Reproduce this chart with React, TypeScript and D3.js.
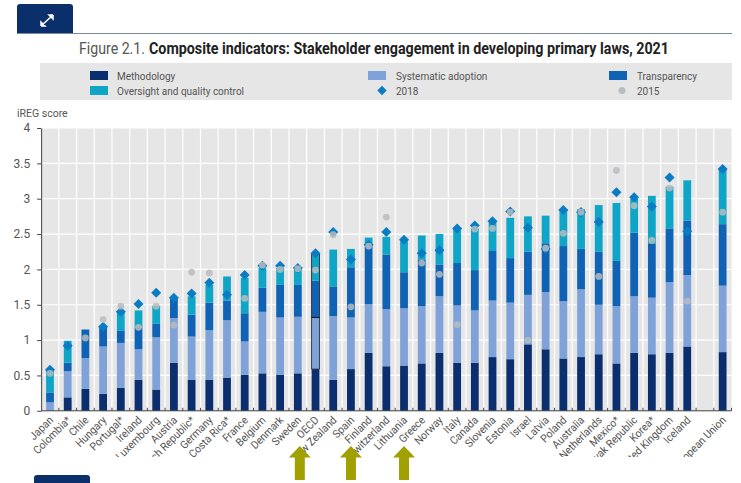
import * as React from 'react';
import * as d3 from 'd3';

const countries = ['Japan', 'Colombia*', 'Chile', 'Hungary', 'Portugal*', 'Ireland', 'Luxembourg', 'Austria', 'Czech Republic*', 'Germany', 'Costa Rica*', 'France', 'Belgium', 'Denmark', 'Sweden', 'OECD', 'New Zealand', 'Spain', 'Finland', 'Switzerland', 'Lithuania', 'Greece', 'Norway', 'Italy', 'Canada', 'Slovenia', 'Estonia', 'Israel', 'Latvia', 'Poland', 'Australia', 'Netherlands', 'Mexico*', 'Slovak Republic', 'Korea*', 'United Kingdom', 'Iceland', '', 'European Union'];

const methodology = [0, .19, .31, .24, .325, .44, .30, .68, .44, .44, .47, .51, .53, .51, .53, .59, .44, .59, .82, .63, .64, .67, .82, .68, .68, .76, .73, .94, .87, .74, .76, .80, .67, .82, .80, .82, .91, 0, .83];
const adoption = [.12, .37, .435, .67, .635, .43, .74, .63, .61, .70, .81, .47, .87, .81, .80, .73, .90, .73, .69, .81, .81, .81, .80, .81, .74, .80, .80, .70, .81, .81, .96, .70, .81, .80, .80, 1.0, 1.01, 0, .94];
const transparency = [.14, .12, .405, .27, .17, .31, .19, .29, .31, .39, .28, .40, .34, .46, .45, .52, .42, .71, .82, .77, .51, .66, .45, .60, .57, .70, .63, .61, .69, .78, .57, .75, .64, .90, .76, .76, .77, 0, .87];
const oversight = [.32, .31, 0, .02, .28, .24, .255, 0, .26, .25, .34, .50, .28, .24, .24, .37, .52, .26, .12, .25, .44, .34, .43, .48, .59, .40, .57, .50, .39, .51, .56, .66, .82, .48, .68, .59, .57, 0, .77];
const score2018 = [.58, .92, null, 1.19, 1.4, 1.51, 1.67, 1.6, 1.66, 1.81, 1.64, 1.92, 2.05, 2.05, 2.02, 2.23, 2.53, 2.14, 2.35, 2.53, 2.42, 2.23, 2.27, 2.58, 2.62, 2.68, 2.82, 2.59, 2.29, 2.84, 2.81, 2.67, 3.09, 3.02, 2.89, 3.3, 2.54, null, 3.42];
const score2015 = [.53, null, 1.03, 1.29, 1.48, 1.18, 1.48, 1.21, 1.96, 1.95, null, 1.59, 2.06, 2.0, 2.01, 1.99, 2.49, 1.47, 2.33, 2.74, null, 2.09, 1.93, 1.22, 2.57, 2.58, 2.81, 1.0, 2.3, 2.51, 2.81, 1.9, 3.4, 2.9, 2.41, 3.15, 1.55, null, 2.81];

const yTicks = [0, 0.5, 1, 1.5, 2, 2.5, 3, 3.5, 4];
const arrowCountries = ['Sweden', 'Spain', 'Lithuania'];

const seriesKeys = ['Methodology', 'Systematic adoption', 'Transparency', 'Oversight and quality control'];
const seriesColors = ['#0a2e6e', '#7fa3d8', '#0f62b4', '#0ea5c6'];
const color2018 = '#0a7cc4';
const color2015 = '#b9bcbf';
const textColor = '#555';
const font = 'Roboto, sans-serif';

export default function App() {
  const ref = React.useRef<SVGSVGElement>(null);

  React.useEffect(() => {
    const svg = d3.select(ref.current);
    svg.selectAll('*').remove();

    const left = 41.15;
    const right = 731.5;
    const top = 128;
    const bottom = 410.8;

    const x = d3.scaleBand().domain(countries.map((c, i) => i + ':' + c)).range([left, right]).padding(0.56).paddingOuter(0.28);
    const step = x.step();
    const xKey = (i: number) => i + ':' + countries[i];
    const cx = (i: number) => (x(xKey(i)) as number) + x.bandwidth() / 2;
    const y = d3.scaleLinear().domain([0, 4]).range([bottom, top]);

    svg.append('clipPath').attr('id', 'label-clip').append('rect')
      .attr('x', 0).attr('y', 0).attr('width', 741).attr('height', 457);

    // header tab and rule
    svg.append('rect').attr('x', 17).attr('y', 33).attr('width', 715).attr('height', 1).attr('fill', '#7d8a99');
    svg.append('path').attr('d', 'M17 33V7a3 3 0 0 1 3-3H70a3 3 0 0 1 3 3V33Z').attr('fill', '#0b2f6b');
    svg.append('path').attr('d', 'M41 26L53 15M53 15h-4l4 4v-4M41 26h4l-4-4v4')
      .attr('stroke', '#fff').attr('stroke-width', 1.5).attr('fill', '#fff');

    svg.append('text').attr('x', 79).attr('y', 54)
      .attr('textLength', 66).attr('lengthAdjust', 'spacingAndGlyphs')
      .attr('font-family', font).attr('font-size', 16).attr('fill', '#555')
      .text('Figure 2.1.');
    svg.append('text').attr('x', 149).attr('y', 54)
      .attr('textLength', 520).attr('lengthAdjust', 'spacingAndGlyphs')
      .attr('font-family', font).attr('font-size', 16).attr('font-weight', 'bold').attr('fill', '#222')
      .text('Composite indicators: Stakeholder engagement in developing primary laws, 2021');

    // legend
    svg.append('rect').attr('x', 40).attr('y', 63).attr('width', 692).attr('height', 37).attr('fill', '#e6e6e6');
    const legendX = [90, 368, 609];
    const legendItems = [
      { name: seriesKeys[0], col: 0, row: 0, swatch: seriesColors[0] },
      { name: seriesKeys[1], col: 1, row: 0, swatch: seriesColors[1] },
      { name: seriesKeys[2], col: 2, row: 0, swatch: seriesColors[2] },
      { name: seriesKeys[3], col: 0, row: 1, swatch: seriesColors[3] },
      { name: '2018', col: 1, row: 1, swatch: null },
      { name: '2015', col: 2, row: 1, swatch: null },
    ];
    const legend = svg.append('g').attr('font-family', font).attr('font-size', 10).attr('fill', textColor);
    legendItems.forEach(d => {
      const lx = legendX[d.col];
      const ly = 71 + d.row * 15;
      if (d.swatch) {
        legend.append('rect').attr('x', lx).attr('y', ly).attr('width', 18).attr('height', 9).attr('fill', d.swatch);
      } else if (d.name === '2018') {
        legend.append('path').attr('transform', `translate(${lx + 14},${ly + 4.5})`)
          .attr('d', d3.symbol(d3.symbolDiamond2, 56)()).attr('fill', color2018);
      } else {
        legend.append('circle').attr('cx', lx + 13).attr('cy', ly + 4.5).attr('r', 3.5).attr('fill', color2015);
      }
      legend.append('text').attr('x', lx + (d.col === 0 ? 27 : 28)).attr('y', ly + 8.5).text(d.name);
    });

    svg.append('text').attr('x', 17).attr('y', 117).attr('font-family', font).attr('font-size', 10.5)
      .attr('fill', textColor).text('iREG score');

    // plot area
    svg.append('rect').attr('x', left).attr('y', top).attr('width', right - left).attr('height', bottom - top).attr('fill', '#e6e6e6');
    svg.append('g').selectAll('line').data(yTicks.slice(1)).enter().append('line')
      .attr('x1', left).attr('x2', right).attr('y1', d => y(d)).attr('y2', d => y(d))
      .attr('stroke', '#fff').attr('stroke-width', 1.2);
    svg.append('g').selectAll('line').data(d3.range(1, countries.length)).enter().append('line')
      .attr('x1', d => left + d * step).attr('x2', d => left + d * step)
      .attr('y1', top).attr('y2', bottom).attr('stroke', '#fff').attr('stroke-width', 1.2);

    // stacked bars
    const rows = countries.map((c, i) => ({
      i,
      [seriesKeys[0]]: methodology[i],
      [seriesKeys[1]]: adoption[i],
      [seriesKeys[2]]: transparency[i],
      [seriesKeys[3]]: oversight[i],
    }));
    const stacked = d3.stack().keys(seriesKeys)(rows as any);
    svg.append('g').selectAll('g').data(stacked).enter().append('g')
      .attr('fill', (d, i) => seriesColors[i])
      .selectAll('rect').data(d => d).enter().append('rect')
      .attr('x', (d, i) => cx(i) - x.bandwidth() / 2)
      .attr('width', x.bandwidth())
      .attr('y', d => y(d[1]))
      .attr('height', d => y(d[0]) - y(d[1]));

    // OECD outline above methodology
    const oecd = countries.indexOf('OECD');
    svg.append('rect')
      .attr('x', cx(oecd) - x.bandwidth() / 2).attr('width', x.bandwidth())
      .attr('y', y(stacked[3][oecd][1])).attr('height', y(stacked[1][oecd][0]) - y(stacked[3][oecd][1]))
      .attr('fill', 'none').attr('stroke', '#222').attr('stroke-width', 0.8);
    svg.append('line')
      .attr('x1', cx(oecd) - x.bandwidth() / 2).attr('x2', cx(oecd) + x.bandwidth() / 2)
      .attr('y1', y(stacked[1][oecd][1])).attr('y2', y(stacked[1][oecd][1]))
      .attr('stroke', '#111').attr('stroke-width', 1);

    // markers
    svg.append('g').selectAll('path').data(score2018.map((v, i) => ({ v, i })).filter(d => d.v !== null)).enter().append('path')
      .attr('transform', d => `translate(${cx(d.i)},${y(d.v as number)})`)
      .attr('d', d3.symbol(d3.symbolDiamond2, 64)())
      .attr('fill', color2018);
    svg.append('g').selectAll('circle').data(score2015.map((v, i) => ({ v, i })).filter(d => d.v !== null)).enter().append('circle')
      .attr('cx', d => cx(d.i)).attr('cy', d => y(d.v as number)).attr('r', 3.4)
      .attr('fill', color2015).attr('fill-opacity', 0.85);

    // y axis
    const yAxis = svg.append('g').attr('transform', `translate(${left},0)`)
      .call(d3.axisLeft(y).tickValues(yTicks).tickFormat(d => String(d)).tickSize(4).tickSizeOuter(0));
    yAxis.select('.domain').attr('stroke', '#444');
    yAxis.selectAll('.tick line').attr('stroke', '#444');
    yAxis.selectAll('text').attr('font-family', font).attr('font-size', 12).attr('fill', textColor).attr('dx', -4);

    // x axis, ticks sit between the bands
    svg.append('line').attr('x1', left).attr('x2', right).attr('y1', bottom).attr('y2', bottom).attr('stroke', '#444');
    svg.append('g').selectAll('line').data(d3.range(1, countries.length + 1)).enter().append('line')
      .attr('x1', d => left + d * step).attr('x2', d => left + d * step)
      .attr('y1', bottom - 3).attr('y2', bottom).attr('stroke', '#444');
    svg.append('g').attr('clip-path', 'url(#label-clip)')
      .selectAll('text').data(countries).enter().append('text')
      .attr('transform', (d, i) => `translate(${cx(i) + 4},${bottom + 10}) rotate(-45) scale(0.93,1)`)
      .attr('text-anchor', 'end')
      .attr('font-family', font).attr('font-size', 11).attr('fill', textColor)
      .text(d => d);

    // annotation arrows and the tab cut off at the bottom
    svg.append('g').selectAll('path').data(arrowCountries).enter().append('path')
      .attr('transform', (d, i) => `translate(${cx(countries.indexOf(d)) + (i === 0 ? 2 : 0)},446)`)
      .attr('d', 'M0 0L11 11.5H5V34H-5V11.5H-11Z')
      .attr('fill', '#a0a000');
    svg.append('rect').attr('x', 34).attr('y', 475).attr('width', 56).attr('height', 14).attr('rx', 3).attr('fill', '#0b2f6b');
  }, []);

  return (
    <svg ref={ref} width={741} height={483} style={{ position: 'absolute', left: 0, top: 0, background: '#fff' }}></svg>
  );
}
